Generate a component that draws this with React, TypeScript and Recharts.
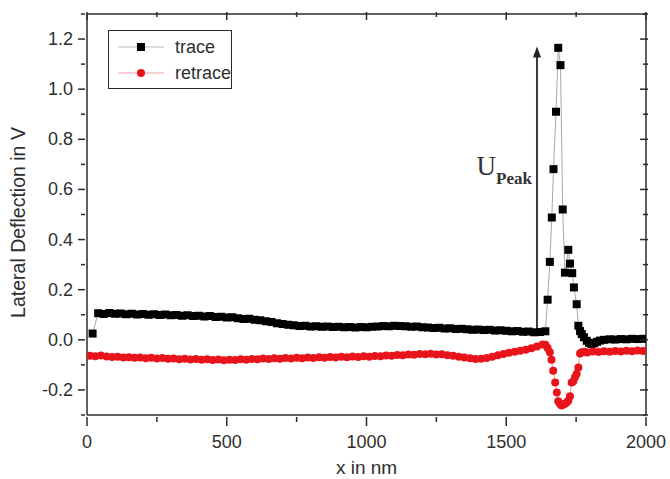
import React from 'react';
import { ScatterChart, Scatter, XAxis, YAxis, ReferenceLine } from 'recharts';

// trace: lateral deflection (V) vs position (nm)
const traceX = [
  20, 40, 60, 80, 100, 120, 140, 160, 180, 200, 220, 240, 260, 280, 300, 320, 340, 360, 380, 400,
  420, 440, 460, 480, 500, 520, 540, 560, 580, 600, 620, 640, 660, 680, 700, 720, 740, 760, 780, 800,
  820, 840, 860, 880, 900, 920, 940, 960, 980, 1000, 1020, 1040, 1060, 1080, 1100, 1120, 1140, 1160,
  1180, 1200, 1220, 1240, 1260, 1280, 1300, 1320, 1340, 1360, 1380, 1400, 1420, 1440, 1460, 1480,
  1500, 1520, 1540, 1560, 1580, 1600, 1620, 1640,
  1648, 1656, 1663, 1669, 1678, 1686, 1694, 1702, 1710, 1722, 1728, 1736, 1742, 1752, 1758, 1764,
  1770, 1778, 1788, 1796, 1805, 1815, 1825, 1835,
  1850, 1870, 1890, 1910, 1930, 1950, 1970, 1990,
];
const traceY = [
  0.025, 0.106, 0.103, 0.107, 0.104, 0.105, 0.102, 0.104, 0.101, 0.103, 0.1, 0.102, 0.099, 0.101,
  0.098, 0.099, 0.096, 0.098, 0.095, 0.096, 0.093, 0.095, 0.091, 0.092, 0.089, 0.09, 0.086, 0.083,
  0.084, 0.08, 0.078, 0.074, 0.071, 0.066, 0.063, 0.06, 0.058, 0.055, 0.056, 0.053, 0.054, 0.052,
  0.053, 0.051, 0.052, 0.05, 0.051, 0.049, 0.051, 0.05, 0.052, 0.053, 0.055, 0.054, 0.056, 0.055,
  0.054, 0.052, 0.053, 0.05, 0.049, 0.047, 0.048, 0.045, 0.046, 0.043, 0.044, 0.042, 0.04, 0.041,
  0.039, 0.04, 0.037, 0.038, 0.036, 0.034, 0.035, 0.032, 0.033, 0.03, 0.031, 0.034,
  0.16, 0.311, 0.488, 0.681, 0.91, 1.165, 1.096, 0.52, 0.268, 0.359, 0.304, 0.266, 0.209, 0.142,
  0.056, 0.035, 0.023, 0.01, -0.004, -0.012, -0.017, -0.014, -0.008, -0.003,
  0.0, 0.002, 0.001, 0.003, 0.002, 0.004, 0.003, 0.004,
];

// retrace
const retraceX = [
  10, 30, 50, 70, 90, 110, 130, 150, 170, 190, 210, 230, 250, 270, 290, 310, 330, 350, 370, 390,
  410, 430, 450, 470, 490, 510, 530, 550, 570, 590, 610, 630, 650, 670, 690, 710, 730, 750, 770, 790,
  810, 830, 850, 870, 890, 910, 930, 950, 970, 990, 1010, 1030, 1050, 1070, 1090, 1110, 1130, 1150,
  1170, 1190, 1210, 1230, 1250, 1270, 1290, 1310, 1330, 1350, 1370, 1390, 1410, 1430, 1450, 1470,
  1490, 1510, 1530, 1550, 1570, 1590, 1610, 1630,
  1640, 1648, 1656, 1662, 1668, 1675, 1681, 1686, 1692, 1698, 1704, 1710, 1716, 1722, 1728, 1734,
  1740, 1746, 1752, 1758, 1764, 1770, 1780, 1790,
  1810, 1830, 1850, 1870, 1890, 1910, 1930, 1950, 1970, 1990,
];
const retraceY = [
  -0.064, -0.066, -0.063, -0.067, -0.069, -0.068, -0.071, -0.07, -0.072, -0.071, -0.074, -0.072,
  -0.075, -0.073, -0.076, -0.075, -0.078, -0.076, -0.079, -0.077, -0.08, -0.078, -0.081, -0.079,
  -0.082, -0.08, -0.081, -0.078, -0.08, -0.077, -0.078, -0.075, -0.077, -0.074, -0.076, -0.073,
  -0.075, -0.072, -0.074, -0.071, -0.073, -0.07, -0.072, -0.069, -0.071, -0.068, -0.07, -0.067,
  -0.069, -0.066, -0.068, -0.065, -0.066, -0.063, -0.064, -0.061, -0.062, -0.059, -0.06, -0.057,
  -0.058, -0.056, -0.059, -0.058, -0.062, -0.064, -0.068, -0.071, -0.074, -0.077, -0.076, -0.073,
  -0.068, -0.062, -0.057, -0.052, -0.048, -0.044, -0.04, -0.034, -0.027, -0.019,
  -0.02, -0.033, -0.05, -0.08, -0.123, -0.17, -0.21, -0.245, -0.256, -0.262, -0.258, -0.255,
  -0.25, -0.243, -0.225, -0.17, -0.165, -0.149, -0.135, -0.11, -0.055, -0.05, -0.048, -0.051,
  -0.047, -0.049, -0.046, -0.048, -0.045, -0.047, -0.044, -0.046, -0.043, -0.045,
];

const xTicks = [0, 250, 500, 750, 1000, 1250, 1500, 1750, 2000];
const yTicks = [-0.3, -0.2, -0.1, 0, 0.1, 0.2, 0.3, 0.4, 0.5, 0.6, 0.7, 0.8, 0.9, 1.0, 1.1, 1.2, 1.3];

// arrow marking the peak height
const peakX = 1610;
const peakBase = 0.038;
const peakTip = 1.17;

const traceData = traceX.map((x, i) => ({ x, y: traceY[i] }));
const retraceData = retraceX.map((x, i) => ({ x, y: retraceY[i] }));

const AXIS = '#2b2b2b';
const TEXT = '#2e2e2e';
const SANS = '"Liberation Sans", Arial, sans-serif';
const SERIF = '"Liberation Serif", "Times New Roman", serif';
const RED = '#e8141c';

const majorX = (v: number) => v % 500 === 0;
const majorY = (v: number) => Math.round(v * 10) % 2 === 0;

const BottomTick = ({ x, y, payload }: any) => {
  const major = majorX(payload.value);
  return (
    <g>
      <line x1={x} x2={x} y1={y} y2={y + (major ? 9 : 5)} stroke={AXIS} strokeWidth={1.5} />
      {major && (
        <text x={x} y={y + 31} textAnchor="middle" fontFamily={SANS} fontSize={18} fill={TEXT}>
          {payload.value}
        </text>
      )}
    </g>
  );
};

const TopTick = ({ x, y, payload }: any) => (
  <line x1={x} x2={x} y1={y} y2={y + (majorX(payload.value) ? 8 : 5)} stroke={AXIS} strokeWidth={1.5} />
);

const LeftTick = ({ x, y, payload }: any) => {
  const major = majorY(payload.value);
  return (
    <g>
      <line x1={x} x2={x - (major ? 7 : 4)} y1={y} y2={y} stroke={AXIS} strokeWidth={1.5} />
      {major && (
        <text x={x - 12} y={y + 6} textAnchor="end" fontFamily={SANS} fontSize={18} fill={TEXT}>
          {payload.value.toFixed(1)}
        </text>
      )}
    </g>
  );
};

const RightTick = ({ x, y, payload }: any) => (
  <line x1={x} x2={x - (majorY(payload.value) ? 8 : 5)} y1={y} y2={y} stroke={AXIS} strokeWidth={1.5} />
);

const YTitle = ({ viewBox }: any) => {
  const cx = (viewBox?.x ?? 0) + 18;
  const cy = (viewBox?.y ?? 14) + (viewBox?.height ?? 401) / 2 + 8;
  return (
    <text
      x={cx}
      y={cy}
      transform={`rotate(-90 ${cx} ${cy})`}
      textAnchor="middle"
      dominantBaseline="central"
      fontFamily={SANS}
      fontSize={19.5}
      fill={TEXT}
    >
      Lateral Deflection in V
    </text>
  );
};

const XTitle = ({ viewBox }: any) => {
  const cx = (viewBox?.x ?? 87) + (viewBox?.width ?? 559) / 2;
  const cy = (viewBox?.y ?? 415) + 59;
  return (
    <text x={cx} y={cy} textAnchor="middle" fontFamily={SANS} fontSize={19} fill={TEXT}>
      x in nm
    </text>
  );
};

const Square = (p: any) => <rect x={p.cx - 4} y={p.cy - 4} width={8} height={8} fill="#000" />;
const Dot = (p: any) => <circle cx={p.cx} cy={p.cy} r={4} fill={RED} />;

const PeakArrow = (p: any) => {
  const { x1, y1, y2 } = p;
  const top = Math.min(y1, y2);
  const bottom = Math.max(y1, y2);
  const ty = bottom - (bottom - top) * 0.546;
  return (
    <g>
      <line x1={x1} x2={x1} y1={bottom} y2={top + 8} stroke="#3a3a3a" strokeWidth={2} />
      <polygon points={`${x1},${top} ${x1 - 4},${top + 11} ${x1 + 4},${top + 11}`} fill="#222" />
      <text x={x1 - 5} y={ty} textAnchor="end" fontFamily={SERIF} fill="#333">
        <tspan fontSize={27}>U</tspan>
        <tspan fontSize={17} fontWeight="bold" dy={9}>Peak</tspan>
      </text>
    </g>
  );
};

const LegendRow = ({ label, color, line, square }: { label: string; color: string; line: string; square: boolean }) => (
  <div style={{ display: 'flex', alignItems: 'center', height: 26 }}>
    <svg width={56} height={20} style={{ marginLeft: 9 }}>
      <line x1={0} x2={46} y1={10} y2={10} stroke={line} strokeWidth={1.2} />
      {square ? <rect x={19} y={6} width={8} height={8} fill={color} /> : <circle cx={23} cy={10} r={4} fill={color} />}
    </svg>
    <span style={{ marginLeft: 1, color: TEXT }}>{label}</span>
  </div>
);

export default function App() {
  return (
    <div style={{ position: 'absolute', left: 0, top: 0, width: 670, height: 479, background: '#fff' }}>
      <ScatterChart width={670} height={479} margin={{ top: 13, right: 23, bottom: 0, left: 0 }}>
        <XAxis
          dataKey="x"
          type="number"
          domain={[0, 2000]}
          ticks={xTicks}
          allowDataOverflow
          height={64}
          tickSize={0}
          tickLine={false}
          tick={BottomTick}
          axisLine={{ stroke: AXIS, strokeWidth: 1.5 }}
          label={<XTitle />}
        />
        <XAxis
          xAxisId="top"
          dataKey="x"
          orientation="top"
          type="number"
          domain={[0, 2000]}
          ticks={xTicks}
          allowDataOverflow
          height={1}
          tickSize={0}
          tickLine={false}
          tick={TopTick}
          axisLine={{ stroke: AXIS, strokeWidth: 1.5 }}
        />
        <YAxis
          dataKey="y"
          type="number"
          domain={[-0.3, 1.3]}
          ticks={yTicks}
          allowDataOverflow
          width={87}
          tickSize={0}
          tickLine={false}
          tick={LeftTick}
          axisLine={{ stroke: AXIS, strokeWidth: 1.5 }}
          label={<YTitle />}
        />
        <YAxis
          yAxisId="right"
          dataKey="y"
          orientation="right"
          type="number"
          domain={[-0.3, 1.3]}
          ticks={yTicks}
          allowDataOverflow
          width={1}
          tickSize={0}
          tickLine={false}
          tick={RightTick}
          axisLine={{ stroke: AXIS, strokeWidth: 1.5 }}
        />
        {/* binds the mirrored top/right frame axes so they get drawn */}
        <Scatter
          xAxisId="top"
          yAxisId="right"
          data={traceData}
          shape={() => <g />}
          isAnimationActive={false}
        />
        <Scatter
          name="trace"
          data={traceData}
          line={{ stroke: '#a8a8a8', strokeWidth: 1 }}
          lineType="joint"
          shape={Square}
          isAnimationActive={false}
        />
        <Scatter
          name="retrace"
          data={retraceData}
          line={{ stroke: '#f29a9a', strokeWidth: 1 }}
          lineType="joint"
          shape={Dot}
          isAnimationActive={false}
        />
        <ReferenceLine
          segment={[{ x: peakX, y: peakBase }, { x: peakX, y: peakTip }]}
          shape={PeakArrow}
        />
      </ScatterChart>
      <div
        style={{
          position: 'absolute',
          left: 108,
          top: 30,
          width: 124,
          height: 59,
          boxSizing: 'border-box',
          border: `1.5px solid ${AXIS}`,
          background: '#fff',
          fontFamily: SANS,
          fontSize: 18,
          paddingTop: 3,
        }}
      >
        <LegendRow label="trace" color="#000" line="#bdbdbd" square />
        <LegendRow label="retrace" color={RED} line="#f4a0a8" square={false} />
      </div>
    </div>
  );
}
